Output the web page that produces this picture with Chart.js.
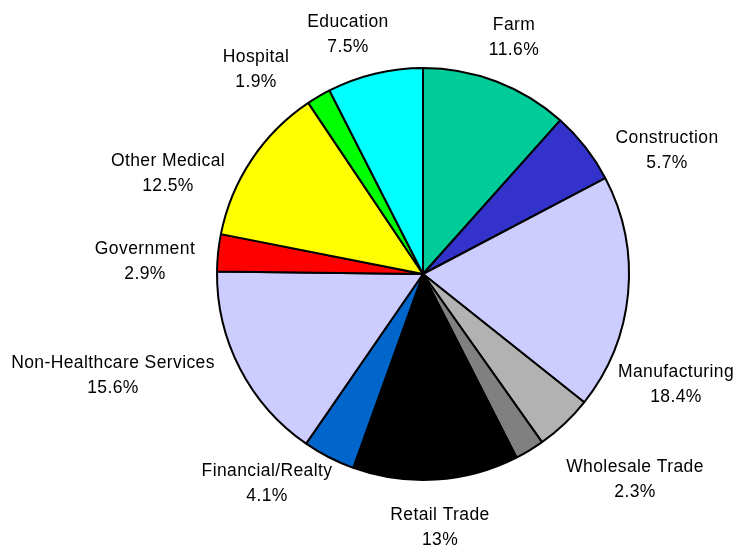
<!DOCTYPE html>
<html>
<head>
<meta charset="utf-8">
<script src="https://cdn.jsdelivr.net/npm/chart.js@4.4.0/dist/chart.umd.min.js"></script>
<style>
  html, body { margin: 0; padding: 0; background: #ffffff; }
  #wrap { width: 738px; height: 547px; position: relative; }
</style>
</head>
<body>
<div id="wrap"><canvas id="c" width="738" height="547"></canvas></div>
<script>
// ---- data ----
const categories = ["Farm", "Construction", "Manufacturing", "", "Wholesale Trade", "Retail Trade",
  "Financial/Realty", "Non-Healthcare Services", "Government", "Other Medical", "Hospital", "Education"];
const shares = [11.6, 5.7, 18.4, 4.5, 2.3, 13, 4.1, 15.6, 2.9, 12.5, 1.9, 7.5];
const sliceColors = ["#00CC99", "#3333CC", "#CCCCFF", "#B2B2B2", "#808080", "#000000",
  "#0066CC", "#CCCCFF", "#FF0000", "#FFFF00", "#00FF00", "#00FFFF"];

// label anchor offsets from pie centre (first-line baseline), in px
const labelOffsets = [[91, -244], [244, -131], [253, 103], null, [212, 198], [17, 246],
  [-156, 202], [-310, 94], [-278, -20], [-255, -108], [-167, -212], [-75, -247]];

const labelPlugin = {
  id: 'pieLabels',
  afterDatasetsDraw(chart) {
    const ctx = chart.ctx;
    const meta = chart.getDatasetMeta(0);
    const arc0 = meta.data[0];
    const cx = arc0.x, cy = arc0.y;
    ctx.save();
    ctx.font = '17.5px "Liberation Sans", Arial, sans-serif';
    if ('letterSpacing' in ctx) ctx.letterSpacing = '0.4px';
    ctx.fillStyle = '#000000';
    ctx.textAlign = 'center';
    ctx.textBaseline = 'alphabetic';
    categories.forEach((name, i) => {
      const off = labelOffsets[i];
      if (!off || !name) return;
      const x = cx + off[0], y = cy + off[1];
      ctx.fillText(name, x, y);
      ctx.fillText(shares[i] + '%', x, y + 25);
    });
    ctx.restore();
  }
};

new Chart(document.getElementById('c'), {
  type: 'pie',
  data: {
    labels: categories,
    datasets: [{
      data: shares,
      backgroundColor: sliceColors,
      borderColor: '#000000',
      borderWidth: 2,
      borderAlign: 'center'
    }]
  },
  options: {
    responsive: false,
    animation: false,
    devicePixelRatio: 1,
    layout: { padding: { left: 216, right: 108, top: 67, bottom: 66 } },
    plugins: {
      legend: { display: false },
      tooltip: { enabled: false }
    }
  },
  plugins: [labelPlugin]
});
</script>
</body>
</html>
